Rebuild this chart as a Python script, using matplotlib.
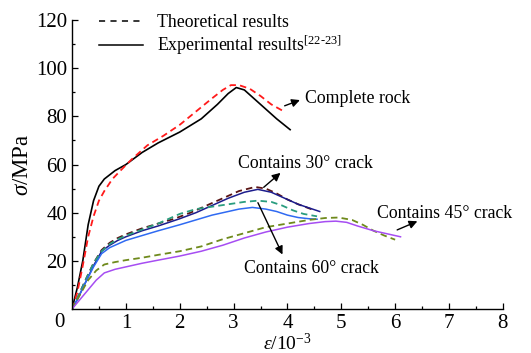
import matplotlib
matplotlib.use("Agg")
import matplotlib.pyplot as plt
from matplotlib.lines import Line2D

plt.rcParams["font.family"] = ["Liberation Serif", "DejaVu Serif"]
plt.rcParams["mathtext.fontset"] = "custom"
plt.rcParams["mathtext.rm"] = "Liberation Serif"
plt.rcParams["mathtext.it"] = "Liberation Serif:italic"

# Complete rock
rock_exp_x = [0, 0.1, 0.2, 0.3, 0.4, 0.5, 0.6, 0.8, 1.0, 1.3, 1.6, 2.0, 2.4, 2.7, 2.9, 3.05, 3.2, 3.4, 3.6, 3.8, 4.05]
rock_exp_y = [0, 9, 20, 35, 45, 51, 54, 57.5, 60, 65, 69, 73.5, 79, 85, 89.5, 92, 91, 87, 83, 79, 74.5]
rock_th_x = [0, 0.1, 0.2, 0.3, 0.4, 0.5, 0.6, 0.75, 0.9, 1.1, 1.4, 1.7, 2.0, 2.3, 2.6, 2.8, 2.95, 3.1, 3.3, 3.5, 3.7, 3.9]
rock_th_y = [0, 7, 18, 30, 38.5, 45, 49, 54, 57.5, 62, 68, 72, 76.5, 82, 87.5, 91, 93, 93, 91.5, 88.5, 85, 82.5]

# 30 degree crack
c30_exp_x = [0, 0.1, 0.25, 0.4, 0.55, 0.7, 0.85, 1.0, 1.3, 1.6, 2.0, 2.3, 2.6, 2.9, 3.2, 3.45, 3.7, 3.95, 4.2, 4.4, 4.6]
c30_exp_y = [0, 4, 11, 18, 24, 26.5, 28.5, 30, 32.5, 34.5, 37.5, 40, 43, 46, 48.5, 49.7, 48.5, 46, 43.5, 42, 40.5]
c30_th_x = [0, 0.1, 0.25, 0.4, 0.55, 0.7, 0.85, 1.0, 1.3, 1.6, 1.9, 2.2, 2.5, 2.8, 3.1, 3.4, 3.6, 3.8, 4.0, 4.2, 4.5]
c30_th_y = [0, 4.5, 12, 19, 24.5, 27.5, 29.5, 31, 33.5, 35.5, 37.5, 40, 43, 46, 49, 50.7, 50, 48, 45.5, 43.5, 41]

# 60 degree crack
c60_exp_x = [0, 0.1, 0.25, 0.4, 0.55, 0.7, 0.85, 1.0, 1.3, 1.6, 2.0, 2.3, 2.6, 2.9, 3.1, 3.35, 3.6, 3.8, 4.0, 4.2, 4.4, 4.55]
c60_exp_y = [0, 4, 11, 17.5, 23, 25.5, 27, 28.5, 30.5, 32.5, 35, 37, 39, 40.5, 41.5, 42.2, 41.5, 40.5, 39, 38, 37.5, 37.3]
c60_th_x = [0, 0.1, 0.25, 0.4, 0.55, 0.7, 0.85, 1.0, 1.3, 1.6, 2.0, 2.3, 2.6, 2.9, 3.2, 3.45, 3.7, 3.9, 4.1, 4.3, 4.55]
c60_th_y = [0, 4.5, 12, 19, 24, 27, 29, 30.5, 33, 35.5, 39.5, 41.5, 42.5, 43.5, 44.5, 45, 44.5, 43, 41, 39.5, 38.5]

# 45 degree crack
c45_exp_x = [0, 0.15, 0.3, 0.45, 0.6, 0.8, 1.0, 1.3, 1.6, 2.0, 2.4, 2.8, 3.2, 3.6, 4.0, 4.4, 4.7, 4.9, 5.1, 5.3, 5.6, 5.9, 6.1]
c45_exp_y = [0, 4, 8, 12, 15, 16.5, 17.5, 19, 20.3, 22, 24, 26.5, 29.5, 32, 34, 35.5, 36.3, 36.5, 36, 34.5, 32.5, 31, 30]
c45_th_x = [0, 0.15, 0.3, 0.45, 0.6, 0.8, 1.0, 1.3, 1.6, 2.0, 2.4, 2.8, 3.2, 3.6, 4.0, 4.4, 4.7, 4.95, 5.2, 5.4, 5.6, 5.8, 6.0]
c45_th_y = [0, 6, 12, 16, 18.5, 19.5, 20.3, 21.3, 22.5, 24, 26, 29, 31.5, 34, 35.5, 37, 37.8, 38, 37, 35, 32.5, 30.5, 28.8]

x_ticks = [1, 2, 3, 4, 5, 6, 7, 8]
y_ticks = [20, 40, 60, 80, 100, 120]

fig = plt.figure(figsize=(5.31, 3.53), dpi=100)
ax = fig.add_axes([0.1356, 0.1246, 0.8114, 0.8184])

dash = (0, (3.6, 2.3))
ax.plot(rock_exp_x, rock_exp_y, color="black", lw=1.2)
ax.plot(rock_th_x, rock_th_y, color="#ff1a1a", lw=1.3, ls=dash)
ax.plot(c30_th_x, c30_th_y, color="#5a1414", lw=1.3, ls=dash)
ax.plot(c30_exp_x, c30_exp_y, color="#1c1c8c", lw=1.1)
ax.plot(c60_th_x, c60_th_y, color="#2a9d7f", lw=1.3, ls=dash)
ax.plot(c60_exp_x, c60_exp_y, color="#2f6af2", lw=1.1)
ax.plot(c45_th_x, c45_th_y, color="#6f8a1c", lw=1.3, ls=dash)
ax.plot(c45_exp_x, c45_exp_y, color="#a64df2", lw=1.1)

ax.set_xlim(0, 8)
ax.set_ylim(0, 120)
ax.set_xticks(x_ticks)
ax.set_yticks(y_ticks)
ax.set_xticks([v - 0.5 for v in x_ticks], minor=True)
ax.set_yticks([v - 10 for v in y_ticks], minor=True)
ax.tick_params(which="both", direction="in", labelsize=15, width=0.9)
ax.tick_params(which="major", length=4)
ax.tick_params(which="minor", length=2)
# shared origin label
ax.text(-0.03, -0.048, "0", transform=ax.transAxes, fontsize=15, ha="center", va="center")
for s in ["top", "right"]:
    ax.spines[s].set_visible(False)
for s in ["left", "bottom"]:
    ax.spines[s].set_linewidth(1.0)

ax.set_xlabel(r"$\varepsilon$/10$^{-3}$", fontsize=14, labelpad=0)
ax.set_ylabel(r"$\sigma$/MPa", fontsize=16.5, labelpad=2)

handles = [
    Line2D([], [], color="black", lw=1.1, ls=(0, (4, 3.5))),
    Line2D([], [], color="black", lw=1.1),
]
labels = ["Theoretical results", r"Experimental results$^{[22\text{-}23]}$"]
ax.legend(handles, labels, loc="upper left", bbox_to_anchor=(0.025, 1.075), frameon=False,
          fontsize=12.8, handlelength=2.5, handletextpad=0.75, labelspacing=0.12)

arrow = dict(arrowstyle="-|>", color="black", lw=1.0, mutation_scale=12)
ax.annotate("", xy=(4.28, 87.2), xytext=(3.9, 84), arrowprops=arrow)
ax.text(4.33, 87.5, "Complete rock", fontsize=12.8, ha="left", va="center")

ax.annotate("", xy=(3.91, 57.3), xytext=(3.52, 49.8), arrowprops=arrow)
ax.text(4.34, 60.6, "Contains 30° crack", fontsize=12.8, ha="center", va="center")

ax.annotate("", xy=(3.93, 21.6), xytext=(3.43, 45.2), arrowprops=arrow)
ax.text(4.44, 17.0, "Contains 60° crack", fontsize=12.8, ha="center", va="center")

ax.annotate("", xy=(6.46, 36.9), xytext=(5.99, 32.4), arrowprops=arrow)
ax.text(6.92, 39.8, "Contains 45° crack", fontsize=12.8, ha="center", va="center")

fig.savefig("out.png", dpi=100)
